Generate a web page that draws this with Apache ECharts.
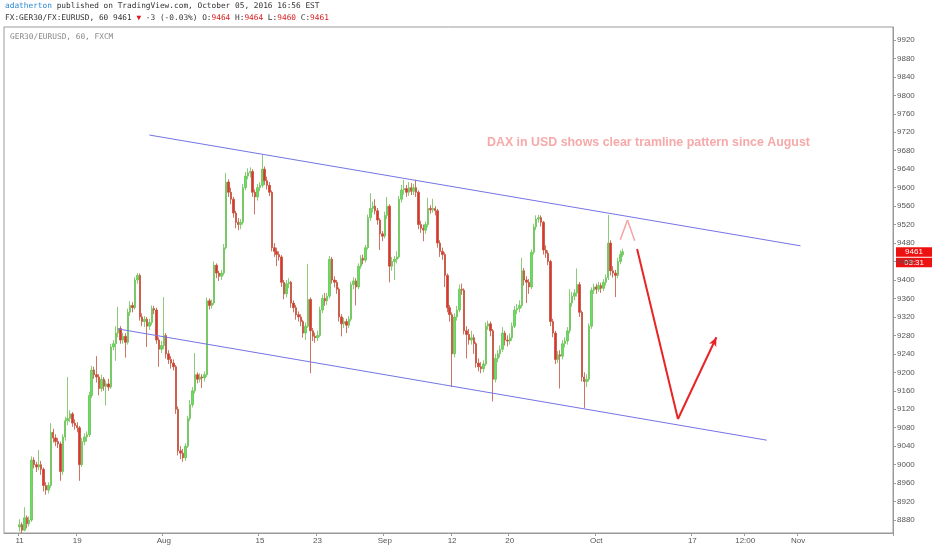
<!DOCTYPE html>
<html>
<head>
<meta charset="utf-8">
<script src="https://cdn.jsdelivr.net/npm/echarts@6/dist/echarts.min.js"></script>
<style>
  html, body { margin: 0; padding: 0; background: #fff; }
  #chart { width: 932px; height: 550px; }
</style>
</head>
<body>
<div id="chart"></div>
<script>
// GER30/EURUSD, 4 slots per trading day (00, 06, 12, 18), starting Mon 11 Jul 2016
var firstOpen = 8865;
var closes = [
  8870, 8858, 8885, 8872,  8880, 9010, 9000, 8995,  9000, 8990, 8955, 8945,  8955, 9070, 9058, 9050,  9045, 8985, 9060, 9095,
  9100, 9110, 9090, 9085,  9080, 9000, 9050, 9060,  9065, 9150, 9205, 9195,  9190, 9165, 9185, 9170,  9175, 9168, 9255, 9262,
  9285, 9295, 9270, 9278,  9265, 9330, 9345, 9340,  9400, 9410, 9320, 9310,  9315, 9300, 9308, 9338,  9335, 9270, 9250, 9258,
  9280, 9240, 9228, 9220,  9212, 9120, 9030, 9025,  9015, 9040, 9100, 9130,  9160, 9195, 9185, 9190,  9188, 9195, 9355, 9345,
  9350, 9432, 9415, 9408,  9415, 9470, 9612, 9590,  9575, 9545, 9525, 9520,  9525, 9600, 9625, 9632,  9635, 9590, 9580, 9600,
  9605, 9640, 9615, 9605,  9590, 9470, 9462, 9455,  9450, 9395, 9370, 9392,  9395, 9350, 9340, 9325,  9320, 9310, 9285, 9300,
  9358, 9290, 9278, 9275,  9280, 9335, 9360, 9355,  9365, 9445, 9400, 9395,  9380, 9320, 9305, 9310,  9302, 9315, 9390, 9398,
  9385, 9430, 9447, 9443,  9470, 9535, 9555, 9560,  9550, 9530, 9500, 9495,  9540, 9560, 9430, 9440,  9445, 9450, 9575, 9595,
  9598, 9590, 9600, 9592,  9600, 9590, 9520, 9512,  9508, 9520, 9555, 9552,  9555, 9550, 9480, 9462,  9455, 9410, 9340, 9325,
  9240, 9320, 9335, 9380,  9378, 9290, 9282, 9270,  9275, 9262, 9220, 9212,  9208, 9218, 9300, 9305,  9290, 9185, 9230, 9240,
  9250, 9285, 9270, 9268,  9275, 9300, 9335, 9338,  9345, 9420, 9400, 9395,  9385, 9460, 9515, 9532,  9535, 9525, 9465, 9458,
  9440, 9310, 9285, 9228,  9238, 9235, 9262, 9268,  9290, 9350, 9365, 9372,  9390, 9330, 9190, 9180,  9185, 9300, 9378, 9385,
  9380, 9388, 9382, 9395,  9405, 9480, 9420, 9415,  9410, 9440, 9455, 9461
];
var highs = [
  8882, 8875, 8908, 8890,  8888, 9018, 9016, 9006,  9032, 9008, 8994, 8962,  8962, 9090, 9078, 9066,  9058, 9050, 9066, 9104,
  9190, 9118, 9114, 9098,  9092, 9084, 9058, 9068,  9072, 9158, 9214, 9212,  9235, 9196, 9195, 9190,  9182, 9186, 9262, 9270,
  9300, 9342, 9300, 9286,  9285, 9338, 9354, 9352,  9406, 9415, 9414, 9328,  9322, 9320, 9316, 9345,  9344, 9340, 9276, 9268,
  9363, 9285, 9248, 9235,  9228, 9216, 9126, 9040,  9034, 9046, 9106, 9140,  9168, 9242, 9200, 9198,  9196, 9202, 9362, 9360,
  9358, 9440, 9436, 9420,  9422, 9478, 9632, 9618,  9600, 9580, 9550, 9534,  9532, 9608, 9634, 9642,  9644, 9640, 9596, 9608,
  9612, 9671, 9646, 9624,  9612, 9594, 9480, 9470,  9462, 9454, 9400, 9400,  9404, 9398, 9356, 9346,  9332, 9326, 9314, 9308,
  9435, 9362, 9296, 9286,  9290, 9342, 9368, 9372,  9372, 9452, 9450, 9408,  9400, 9384, 9326, 9318,  9316, 9322, 9396, 9406,
  9404, 9436, 9454, 9455,  9476, 9542, 9588, 9570,  9575, 9556, 9534, 9506,  9548, 9580, 9564, 9450,  9452, 9462, 9582, 9606,
  9617, 9606, 9612, 9610,  9608, 9617, 9594, 9528,  9520, 9526, 9578, 9562,  9576, 9560, 9554, 9486,  9470, 9460, 9414, 9346,
  9330, 9328, 9344, 9390,  9392, 9382, 9300, 9294,  9290, 9282, 9266, 9230,  9222, 9226, 9308, 9312,  9310, 9294, 9240, 9248,
  9258, 9298, 9290, 9280,  9284, 9308, 9344, 9348,  9356, 9448, 9426, 9408,  9402, 9466, 9522, 9540,  9541, 9540, 9528, 9475,
  9464, 9444, 9316, 9290,  9246, 9248, 9270, 9276,  9298, 9380, 9374, 9380,  9425, 9396, 9334, 9200,  9196, 9306, 9384, 9392,
  9392, 9396, 9394, 9402,  9412, 9541, 9486, 9430,  9422, 9448, 9464, 9468
];
var lows = [
  8855, 8852, 8856, 8862,  8866, 8876, 8992, 8984,  8988, 8978, 8942, 8935,  8938, 8950, 9048, 9040,  9036, 8965, 8978, 9052,
  9086, 9092, 9082, 9076,  9070, 8965, 8995, 9042,  9050, 9060, 9144, 9186,  9178, 9150, 9158, 9160,  9128, 9160, 9164, 9248,
  9225, 9276, 9262, 9262,  9232, 9260, 9322, 9330,  9336, 9392, 9312, 9300,  9298, 9255, 9292, 9302,  9326, 9262, 9212, 9242,
  9250, 9230, 9218, 9208,  9204, 9110, 9020, 9012,  9006, 9008, 9036, 9094,  9124, 9154, 9176, 9178,  9166, 9180, 9190, 9336,
  9338, 9346, 9404, 9398,  9400, 9410, 9466, 9580,  9564, 9535, 9512, 9508,  9510, 9520, 9594, 9618,  9622, 9580, 9542, 9572,
  9592, 9600, 9606, 9596,  9582, 9462, 9450, 9430,  9442, 9385, 9358, 9362,  9382, 9340, 9330, 9314,  9310, 9300, 9275, 9270,
  9296, 9198, 9268, 9264,  9268, 9276, 9328, 9344,  9346, 9360, 9392, 9384,  9370, 9310, 9278, 9296,  9285, 9296, 9310, 9380,
  9345, 9380, 9424, 9434,  9438, 9466, 9528, 9546,  9542, 9520, 9465, 9484,  9490, 9532, 9395, 9420,  9400, 9436, 9446, 9568,
  9585, 9580, 9582, 9584,  9584, 9580, 9510, 9502,  9484, 9500, 9514, 9544,  9546, 9540, 9470, 9450,  9444, 9385, 9330, 9310,
  9168, 9232, 9312, 9330,  9368, 9282, 9230, 9260,  9260, 9240, 9210, 9202,  9198, 9200, 9214, 9292,  9278, 9137, 9178, 9222,
  9232, 9244, 9258, 9256,  9260, 9268, 9296, 9326,  9330, 9340, 9388, 9350,  9370, 9380, 9455, 9508,  9524, 9516, 9455, 9448,
  9432, 9300, 9276, 9218,  9220, 9165, 9228, 9254,  9260, 9284, 9342, 9356,  9364, 9320, 9180, 9123,  9168, 9180, 9294, 9370,
  9370, 9374, 9372, 9376,  9388, 9400, 9410, 9405,  9363, 9404, 9434, 9450
];

var yTicks = [8880, 8920, 8960, 9000, 9040, 9080, 9120, 9160, 9200, 9240, 9280, 9320, 9360, 9400,
  9440, 9480, 9520, 9560, 9600, 9640, 9680, 9720, 9760, 9800, 9840, 9880, 9920];
var xTickCats = ['07-11 00', '07-19 00', '08-01 00', '08-15 00', '08-23 00', '09-01 00',
  '09-12 00', '09-20 00', '10-03 00', '10-17 00', '10-24 12', '11-01 00'];
var xTickText = ['11', '19', 'Aug', '15', '23', 'Sep', '12', '20', 'Oct', '17', '12:00', 'Nov'];

// drawings, [slot index, price]
var upperLine = [[60, 9714], [331, 9474]];
var lowerLine = [[47, 9294], [317, 9053]];
var caret = [[256, 9487], [259, 9530], [262, 9485]];
var arrow = [[263, 9467], [280, 9099], [296, 9276]];

// slots: two lead slots, then 92 trading days from Fri 8 Jul
var slotHours = ['00', '06', '12', '18'];
var categories = ['07-07 12', '07-07 18'];
var d = new Date(Date.UTC(2016, 6, 8));
var nDays = 0;
while (nDays < 92) {
  var wd = d.getUTCDay();
  if (wd !== 0 && wd !== 6) {
    var md = String(d.getUTCMonth() + 1).padStart(2, '0') + '-' + String(d.getUTCDate()).padStart(2, '0');
    slotHours.forEach(function (h) { categories.push(md + ' ' + h); });
    nDays++;
  }
  d.setUTCDate(d.getUTCDate() + 1);
}
var dataStart = categories.indexOf('07-11 00');

var candles = categories.map(function () { return ['-', '-', '-', '-']; });
var prev = firstOpen;
closes.forEach(function (c, i) {
  candles[dataStart + i] = [prev, c, lows[i], highs[i]];
  prev = c;
});
var lastClose = closes[closes.length - 1];

function seg(a, b, color, width, endSym) {
  return [
    { coord: a, symbol: 'none', lineStyle: { color: color, width: width, type: 'solid' } },
    { coord: b, symbol: endSym || 'none', symbolSize: [6, 9] }
  ];
}

var chart = echarts.init(document.getElementById('chart'));
var axisFont = { fontFamily: 'Liberation Sans', fontSize: 8, color: '#555' };
var mono = '7.8px "DejaVu Sans Mono"';

chart.setOption({
  animation: false,
  backgroundColor: '#fff',
  grid: { left: 4, right: 39, top: 27, bottom: 17, show: true, borderColor: '#9a9a9a', borderWidth: 1 },
  xAxis: {
    type: 'category',
    data: categories,
    boundaryGap: true,
    axisLine: { lineStyle: { color: '#9a9a9a' } },
    axisTick: {
      show: true, length: 3, lineStyle: { color: '#9a9a9a' },
      interval: function (i, v) { return xTickCats.indexOf(v) >= 0; }
    },
    axisLabel: Object.assign({
      margin: 4,
      interval: function (i, v) { return xTickCats.indexOf(v) >= 0; },
      formatter: function (v) { var k = xTickCats.indexOf(v); return k >= 0 ? xTickText[k] : ''; }
    }, axisFont),
    splitLine: { show: false }
  },
  yAxis: {
    type: 'value',
    position: 'right',
    min: 8852,
    max: 9948,
    scale: true,
    axisLine: { show: true, lineStyle: { color: '#9a9a9a' } },
    axisTick: { show: true, length: 3, customValues: yTicks, lineStyle: { color: '#9a9a9a' } },
    axisLabel: Object.assign({
      margin: 4, customValues: yTicks,
      formatter: function (v) { return String(v); }
    }, axisFont),
    splitLine: { show: false }
  },
  series: [{
    type: 'candlestick',
    data: candles,
    barWidth: '80%',
    itemStyle: {
      color: '#5fe35f',
      color0: '#e53030',
      borderColor: '#6cbf55',
      borderColor0: '#c0503a',
      borderWidth: 0.8
    },
    markLine: {
      silent: true,
      animation: false,
      label: { show: false },
      data: [
        seg(upperLine[0], upperLine[1], '#7474e6', 1),
        seg(lowerLine[0], lowerLine[1], '#7474e6', 1),
        seg(caret[0], caret[1], '#f5a3a3', 1.5),
        seg(caret[1], caret[2], '#f5a3a3', 1.5),
        seg(arrow[0], arrow[1], '#e82424', 2),
        seg(arrow[1], arrow[2], '#e82424', 2, 'arrow')
      ]
    }
  }]
});

// header texts, annotation and the price tag at the last close
var py = chart.convertToPixel({ yAxisIndex: 0 }, lastClose);
chart.setOption({
  graphic: [
    {
      id: 'head1', type: 'text', x: 5, y: 2,
      style: {
        text: '{b|adatherton} published on TradingView.com, October 05, 2016 16:56 EST',
        font: mono, fill: '#333',
        rich: { b: { fill: '#2a8ad4', font: mono } }
      }
    },
    {
      id: 'head2', type: 'text', x: 5, y: 14,
      style: {
        text: 'FX:GER30/FX:EURUSD, 60 9461 {r|\u25BC} -3 (-0.03%) O:{r|9464} H:{r|9464} L:{r|9460} C:{r|9461}',
        font: mono, fill: '#333',
        rich: { r: { fill: '#d81b1b', font: mono } }
      }
    },
    {
      id: 'symbol', type: 'text', x: 10, y: 33,
      style: { text: 'GER30/EURUSD, 60, FXCM', font: mono, fill: '#888' }
    },
    {
      id: 'note', type: 'text', x: 487, y: 137,
      style: {
        text: 'DAX in USD shows clear tramline pattern since August',
        font: 'bold 12.4px "Liberation Sans"', fill: '#f7a9a9'
      }
    },
    {
      id: 'tag', type: 'group', z: 200, zlevel: 1,
      children: [
        { type: 'rect', shape: { x: 896, y: py - 4.5, width: 36, height: 9.5 }, style: { fill: '#ee1111' } },
        { type: 'text', x: 914, y: py, style: { text: String(lastClose), font: '8px "Liberation Sans"', fill: '#fff', align: 'center', verticalAlign: 'middle' } },
        { type: 'rect', shape: { x: 896, y: py + 6, width: 36, height: 9.5 }, style: { fill: '#ee1111' } },
        { type: 'text', x: 914, y: py + 10.8, style: { text: '03:31', font: '8px "Liberation Sans"', fill: '#fff', align: 'center', verticalAlign: 'middle' } }
      ]
    }
  ]
});

window.onresize = function () { chart.resize(); };
</script>
</body>
</html>
